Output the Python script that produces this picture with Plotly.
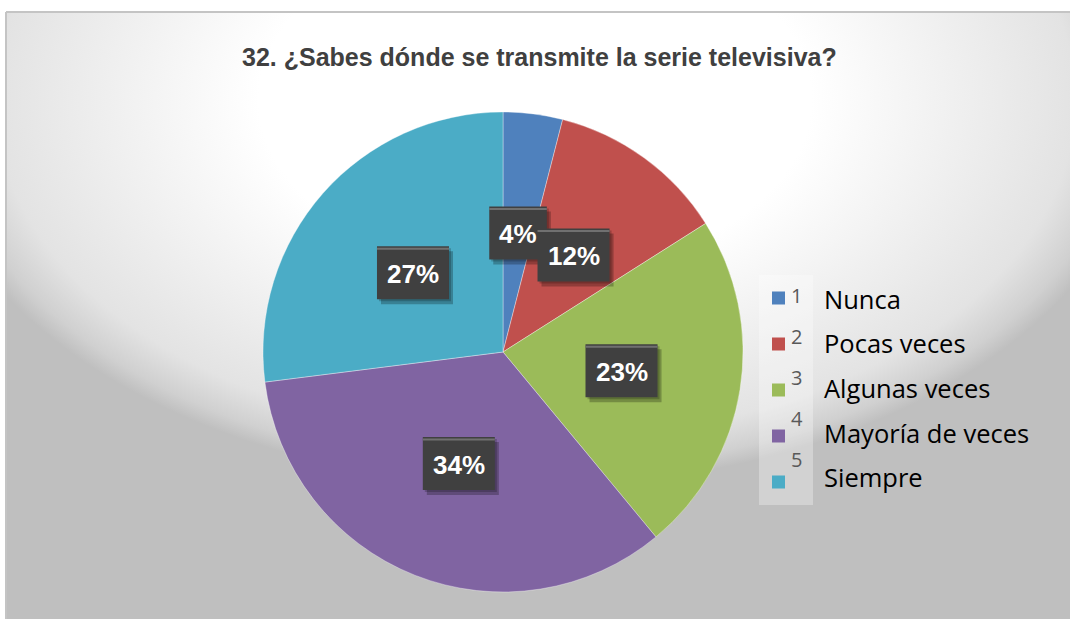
import base64
import math
import plotly.graph_objects as go

# Survey answers and their shares (%)
categories = ["Nunca", "Pocas veces", "Algunas veces", "Mayoría de veces", "Siempre"]
codes = ["1", "2", "3", "4", "5"]
percent = [4, 12, 23, 34, 27]
colors = ["#4F81BD", "#C0504D", "#9BBB59", "#8064A2", "#4BACC6"]
title = "32. ¿Sabes dónde se transmite la serie televisiva?"

W, H = 1070, 619
cx, cy, R = 503, 352, 240          # pie centre and radius in pixels


def px(x):
    return x / W


def py(y):
    return 1 - y / H


fig = go.Figure()
fig.add_trace(go.Pie(
    values=percent,
    labels=categories,
    marker=dict(colors=colors, line=dict(color="rgba(255,255,255,0.35)", width=1)),
    sort=False,
    direction="clockwise",
    rotation=0,
    textinfo="none",
    hoverinfo="label+percent",
    showlegend=False,
    domain=dict(x=[px(cx - R), px(cx + R)], y=[py(cy + R), py(cy - R)]),
))

# Chart-area background: soft radial highlight fading to grey
fw, fh = 1064, 607
svg = f'''<svg xmlns="http://www.w3.org/2000/svg" width="{fw}" height="{fh}" viewBox="0 0 {fw} {fh}">
<defs><radialGradient id="g" cx="0.5" cy="0.5" r="0.5">
<stop offset="0" stop-color="#FFFFFF"/>
<stop offset="0.45" stop-color="#FFFFFF"/>
<stop offset="0.88" stop-color="#E3E3E3"/>
<stop offset="0.96" stop-color="#D0D0D0"/>
<stop offset="1" stop-color="#BFBFBF"/>
</radialGradient></defs>
<rect width="{fw}" height="{fh}" fill="#BFBFBF"/>
<ellipse cx="529" cy="88" rx="614" ry="386" fill="url(#g)"/>
</svg>'''
src = "data:image/svg+xml;base64," + base64.b64encode(svg.encode("utf-8")).decode("ascii")


def rect(x0, y0, x1, y1, fill, layer="above"):
    return dict(type="rect", xref="paper", yref="paper",
                x0=px(x0), y0=py(y0), x1=px(x1), y1=py(y1),
                line=dict(width=0), fillcolor=fill, layer=layer)


# Frame border (top and left edges)
shapes = [
    dict(type="line", xref="paper", yref="paper", x0=px(6), y0=py(12), x1=1, y1=py(12),
         line=dict(color="#C4C4C4", width=2), layer="above"),
    dict(type="line", xref="paper", yref="paper", x0=px(6), y0=py(12), x1=px(6), y1=0,
         line=dict(color="#C4C4C4", width=2), layer="above"),
]

annotations = []

# Title
annotations.append(dict(
    x=px(540), y=py(57), xref="paper", yref="paper", xanchor="center", yanchor="middle",
    text=title, showarrow=False,
    font=dict(family="Liberation Sans, Arial", size=25, color="#404040", weight="bold"),
))

# Data labels: dark boxes at half radius of each slice's mid-angle
label_size = 26
char_w = {"%": 0.889}  # Arial-bold advance widths (em)
box_h = 53
total = sum(percent)
cum = 0
for v in percent:
    mid = 2 * math.pi * (cum + v / 2) / total
    cum += v
    lx = cx + 0.5 * R * math.sin(mid)
    ly = cy - 0.5 * R * math.cos(mid)
    txt = f"{v}%"
    tw = label_size * sum(char_w.get(c, 0.556) for c in txt)
    bw = tw + 20
    x0, x1 = lx - bw / 2, lx + bw / 2
    y0, y1 = ly - box_h / 2, ly + box_h / 2
    shapes.append(rect(x0 + 4, y0 + 5, x1 + 4, y1 + 5, "rgba(0,0,0,0.25)"))
    shapes.append(rect(x0 + 2, y0 + 2, x1 + 2, y1 + 2, "rgba(0,0,0,0.2)"))
    shapes.append(rect(x0, y0, x1, y1, "#404040"))
    shapes.append(dict(type="line", xref="paper", yref="paper",
                       x0=px(x0), y0=py(y0 + 2.5), x1=px(x1), y1=py(y0 + 2.5),
                       line=dict(color="#707070", width=2), layer="above"))
    annotations.append(dict(x=px(lx), y=py(ly + 1), xref="paper", yref="paper",
                            xanchor="center", yanchor="middle", text=txt, showarrow=False,
                            font=dict(family="Liberation Sans, Arial", size=label_size,
                                      color="#FFFFFF", weight="bold")))

# Legend panel
shapes.append(rect(759, 275, 813, 505, "rgba(255,255,255,0.3)"))
for i, (code, name, col) in enumerate(zip(codes, categories, colors)):
    sy = 298 + 46 * i
    shapes.append(rect(772, sy - 6.5, 785, sy + 6.5, col))
    annotations.append(dict(x=px(789), y=py(295 + 41 * i), xref="paper", yref="paper",
                            xanchor="left", yanchor="middle", text=code, showarrow=False,
                            font=dict(family="Open Sans, Noto Sans", size=20, color="#595959")))
    annotations.append(dict(x=px(822), y=py(299 + 44.5 * i), xref="paper", yref="paper",
                            xanchor="left", yanchor="middle", text=name, showarrow=False,
                            font=dict(family="Open Sans, Noto Sans", size=25.5, color="#000000")))

fig.update_layout(
    width=W, height=H,
    margin=dict(l=0, r=0, t=0, b=0),
    paper_bgcolor="#FFFFFF",
    plot_bgcolor="rgba(0,0,0,0)",
    images=[dict(source=src, xref="paper", yref="paper", x=px(6), y=py(12),
                 sizex=fw / W, sizey=fh / H, xanchor="left", yanchor="top",
                 sizing="stretch", layer="below")],
    shapes=shapes,
    annotations=annotations,
    showlegend=False,
)

fig.write_html("out.html")
